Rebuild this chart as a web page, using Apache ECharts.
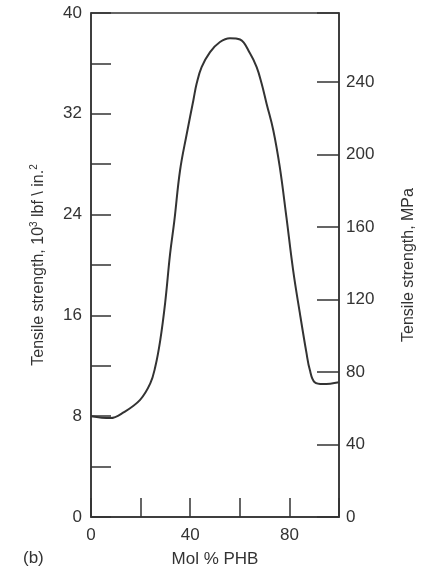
<!DOCTYPE html>
<html>
<head>
<meta charset="utf-8">
<title>Tensile strength vs Mol % PHB</title>
<script src="https://cdn.jsdelivr.net/npm/echarts@6/dist/echarts.min.js"></script>
<style>
    html, body { margin: 0; padding: 0; background: #fff; }
    #main { width: 426px; height: 573px; }
</style>
</head>
<body>
<div id="main"></div>
<script>
// 横轴：PHB 摩尔分数 (mol %)
var molPct = [0, 7.8, 13.1, 19.8, 23.9, 25.9, 27.9, 29.9, 31.9, 33.6, 35.9, 38.6, 41.3, 42.6,
    44.6, 48.0, 52.0, 56.0, 60.1, 64.1, 66.8, 68.8, 70.8, 73.5, 76.1, 78.8, 81.5, 84.2,
    86.9, 88.2, 90.2, 93.6, 100];

// 纵轴：拉伸强度 (10^3 lbf/in.^2)
var tensileKsi = [8.0, 7.85, 8.3, 9.3, 10.6, 11.9, 14.0, 17.0, 20.9, 23.5, 27.5, 30.4, 33.1, 34.4,
    35.7, 36.9, 37.7, 38.0, 37.9, 36.8, 35.7, 34.4, 32.8, 30.7, 27.8, 23.8, 19.6, 16.2,
    13.0, 11.7, 10.7, 10.55, 10.7];

// 刻度
var xLabelTicks = [0, 40, 80];
var leftLabelStep = 8;
var rightLabelStep = 40;
var rightLabelMax = 240;

var INK = '#333';
var FONT = 'Liberation Sans, Arial, sans-serif';

/**
 * 获取图表对象
 */
var getChart = function(container){
    var dom = document.getElementById(container);
    if(!dom){
        console.log("no container: " + container);
        return null;
    }
    return echarts.init(dom, null, {renderer: 'canvas'});
};

var chart = getChart('main');

var points = [];
for (var i = 0; i < molPct.length; i++) {
    points.push([molPct[i], tensileKsi[i]]);
}

var option = {
    animation: false,
    backgroundColor: '#fff',
    textStyle: {fontFamily: FONT, color: INK},
    grid: {
        left: 91, right: 87, top: 13, bottom: 56,
        show: true, borderColor: INK, borderWidth: 1.5,
        containLabel: false
    },
    graphic: [{
        type: 'text', left: 23, top: 550,
        style: {text: '(b)', font: '17px ' + FONT, fill: INK}
    }],
    xAxis: {
        type: 'value', min: 0, max: 100, interval: 20,
        name: 'Mol % PHB', nameLocation: 'middle', nameGap: 34,
        nameTextStyle: {fontSize: 17, color: INK, fontFamily: FONT},
        axisLine: {lineStyle: {color: INK, width: 1.5}},
        axisTick: {inside: true, length: 19, lineStyle: {color: INK, width: 1.5}},
        axisLabel: {
            fontSize: 17, color: INK, margin: 10, fontFamily: FONT,
            formatter: function(v){ return xLabelTicks.indexOf(v) >= 0 ? String(v) : ''; }
        },
        splitLine: {show: false}
    },
    yAxis: [{
        type: 'value', min: 0, max: 40, interval: 4, position: 'left',
        name: 'Tensile strength, 10{sup|3} lbf \\ in.{sup|2}',
        nameLocation: 'middle', nameRotate: 90, nameGap: 43,
        nameTextStyle: {
            fontSize: 16, color: INK, fontFamily: FONT,
            rich: {sup: {fontSize: 10, verticalAlign: 'top', padding: [0, 0, 9, 0], color: INK, fontFamily: FONT}}
        },
        axisLine: {show: true, lineStyle: {color: INK, width: 1.5}},
        axisTick: {inside: true, length: 20, lineStyle: {color: INK, width: 1.5}},
        axisLabel: {
            fontSize: 17, color: INK, margin: 9, fontFamily: FONT,
            formatter: function(v){ return v % leftLabelStep === 0 ? String(v) : ''; }
        },
        splitLine: {show: false}
    }, {
        type: 'value', min: 0, max: 278, interval: 40, position: 'right',
        name: 'Tensile strength, MPa',
        nameLocation: 'middle', nameRotate: 90, nameGap: 62,
        nameTextStyle: {fontSize: 16, color: INK, fontFamily: FONT},
        axisLine: {show: true, lineStyle: {color: INK, width: 1.5}},
        axisTick: {inside: true, length: 22, lineStyle: {color: INK, width: 1.5}},
        axisLabel: {
            fontSize: 17, color: INK, margin: 7, fontFamily: FONT,
            formatter: function(v){
                return (v % rightLabelStep === 0 && v <= rightLabelMax) ? String(v) : '';
            }
        },
        splitLine: {show: false}
    }],
    series: [{
        type: 'line',
        yAxisIndex: 0,
        data: points,
        smooth: 0.4,
        showSymbol: false,
        lineStyle: {color: INK, width: 2}
    }]
};

chart.setOption(option);
</script>
</body>
</html>
